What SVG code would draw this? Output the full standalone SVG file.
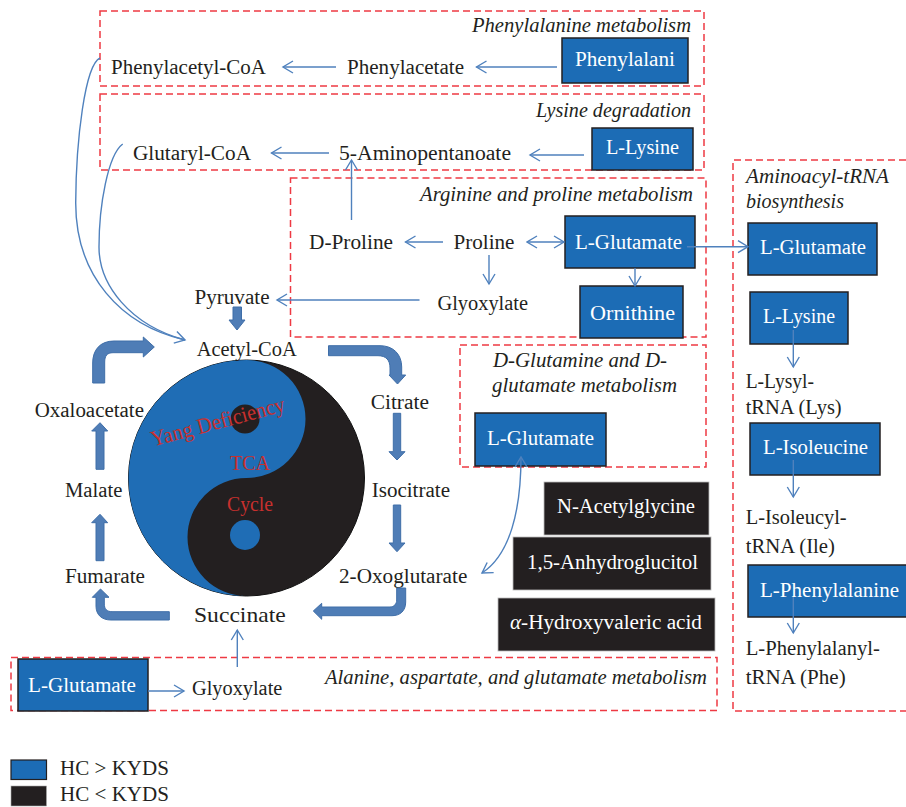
<svg xmlns="http://www.w3.org/2000/svg" width="906" height="807" viewBox="0 0 906 807">
<style>
text{font-family:"Liberation Serif","Times New Roman",serif;font-size:20px;fill:#231f20}
.w{fill:#fff}
.i{font-style:italic;font-size:20px}
.r{fill:#c8302e;font-size:22px}
.d{fill:none;stroke:#ee3a43;stroke-width:1.5;stroke-dasharray:7 4}
.b{fill:#1c6cb5;stroke:#231f20;stroke-width:1.5}
.k{fill:#231f20;stroke:#bbb;stroke-width:.8}
.c{fill:none;stroke:#4f81bd;stroke-width:1.4}
.a{marker-end:url(#o)}
.s{marker-start:url(#os)}
.f{fill:#4f7db6;stroke:#3f6ea8;stroke-width:1}
</style>
<defs>
<marker id="o" markerUnits="userSpaceOnUse" markerWidth="14" markerHeight="16" refX="11" refY="7" orient="auto"><path d="M1,1 L11,7 L1,13" fill="none" stroke="#4f81bd" stroke-width="1.4"/></marker>
<marker id="os" markerUnits="userSpaceOnUse" markerWidth="14" markerHeight="16" refX="1" refY="7" orient="auto"><path d="M11,1 L1,7 L11,13" fill="none" stroke="#4f81bd" stroke-width="1.4"/></marker>
</defs>
<g id="regions">
<rect class="d" x="100" y="11" width="604" height="75"/>
<rect class="d" x="100" y="94" width="604" height="76"/>
<rect class="d" x="290.500" y="178" width="415.500" height="159"/>
<rect class="d" x="460" y="345" width="246" height="122"/>
<rect class="d" x="11" y="657.500" width="706" height="53"/>
<path class="d" d="M906,160 H733 V711 H906"/>
</g>
<g id="yinyang">
<circle cx="246.500" cy="478" r="118" fill="#231f20" stroke="#111" stroke-width="1"/>
<path d="M246.500,360 A59,59 0 0 1 246.500,478 A59,59 0 0 0 246.500,596 A118,118 0 0 1 246.500,360Z" fill="#1f6db5"/>
<circle cx="245" cy="419" r="14.500" fill="#231f20"/>
<circle cx="245" cy="535" r="15" fill="#1f6db5"/>
<text class="r" transform="translate(153,446.500) rotate(-15)" textLength="138" lengthAdjust="spacingAndGlyphs">Yang Deficiency</text>
<text class="r" x="230" y="470" textLength="40" lengthAdjust="spacingAndGlyphs">TCA</text>
<text class="r" x="227" y="511" textLength="46" lengthAdjust="spacingAndGlyphs">Cycle</text>
</g>
<g id="n-phenylalani"><rect class="b" x="562" y="38" width="126" height="45"/><text class="w" x="575" y="66" textLength="100" lengthAdjust="spacingAndGlyphs">Phenylalani</text></g>
<g id="n-lysine1"><rect class="b" x="592" y="128" width="101" height="42"/><text class="w" x="606" y="154" textLength="73" lengthAdjust="spacingAndGlyphs">L-Lysine</text></g>
<g id="n-glutamate1"><rect class="b" x="565" y="216" width="130" height="52"/><text class="w" x="575" y="249" textLength="107" lengthAdjust="spacingAndGlyphs">L-Glutamate</text></g>
<g id="n-ornithine"><rect class="b" x="580" y="286" width="103" height="52"/><text class="w" x="590" y="320" textLength="85" lengthAdjust="spacingAndGlyphs">Ornithine</text></g>
<g id="n-glutamate2"><rect class="b" x="748" y="223" width="129" height="52"/><text class="w" x="760" y="254" textLength="106" lengthAdjust="spacingAndGlyphs">L-Glutamate</text></g>
<g id="n-lysine2"><rect class="b" x="750" y="292" width="98" height="52"/><text class="w" x="763" y="323" textLength="72" lengthAdjust="spacingAndGlyphs">L-Lysine</text></g>
<g id="n-isoleucine"><rect class="b" x="750" y="423" width="130" height="52"/><text class="w" x="763" y="454" textLength="105" lengthAdjust="spacingAndGlyphs">L-Isoleucine</text></g>
<g id="n-phenylalanine"><rect class="b" x="748" y="565" width="160" height="52"/><text class="w" x="760" y="597" textLength="139" lengthAdjust="spacingAndGlyphs">L-Phenylalanine</text></g>
<g id="n-glutamate3"><rect class="b" x="475" y="413" width="131" height="53"/><text class="w" x="487" y="445" textLength="107" lengthAdjust="spacingAndGlyphs">L-Glutamate</text></g>
<g id="n-glutamate4"><rect class="b" x="18" y="659" width="130" height="52"/><text class="w" x="28" y="692" textLength="108" lengthAdjust="spacingAndGlyphs">L-Glutamate</text></g>
<g id="n-acetylglycine"><rect class="k" x="544" y="482" width="165" height="53"/><text class="w" x="557" y="513" textLength="138" lengthAdjust="spacingAndGlyphs">N-Acetylglycine</text></g>
<g id="n-anhydroglucitol"><rect class="k" x="513" y="537" width="198" height="53"/><text class="w" x="527" y="569" textLength="171" lengthAdjust="spacingAndGlyphs">1,5-Anhydroglucitol</text></g>
<g id="n-hydroxyvaleric"><rect class="k" x="498" y="598" width="217" height="53"/><text class="w" x="510" y="629" textLength="192" lengthAdjust="spacingAndGlyphs"><tspan font-style="italic">α</tspan>-Hydroxyvaleric acid</text></g>
<g id="labels">
<text class="i" x="472" y="32" textLength="219" lengthAdjust="spacingAndGlyphs">Phenylalanine metabolism</text>
<text class="i" x="536" y="117" textLength="155" lengthAdjust="spacingAndGlyphs">Lysine degradation</text>
<text class="i" x="420" y="201" textLength="273" lengthAdjust="spacingAndGlyphs">Arginine and proline metabolism</text>
<text class="i" x="493" y="367" textLength="174" lengthAdjust="spacingAndGlyphs">D-Glutamine and D-</text>
<text class="i" x="492" y="392" textLength="185" lengthAdjust="spacingAndGlyphs">glutamate metabolism</text>
<text class="i" x="325" y="684" textLength="382" lengthAdjust="spacingAndGlyphs">Alanine, aspartate, and glutamate metabolism</text>
<text class="i" x="746" y="183" textLength="143" lengthAdjust="spacingAndGlyphs">Aminoacyl-tRNA</text>
<text class="i" x="746" y="208" textLength="98" lengthAdjust="spacingAndGlyphs">biosynthesis</text>
<text x="111" y="74" textLength="155" lengthAdjust="spacingAndGlyphs">Phenylacetyl-CoA</text>
<text x="347" y="74" textLength="117" lengthAdjust="spacingAndGlyphs">Phenylacetate</text>
<text x="133" y="160" textLength="118" lengthAdjust="spacingAndGlyphs">Glutaryl-CoA</text>
<text x="339" y="160" textLength="172" lengthAdjust="spacingAndGlyphs">5-Aminopentanoate</text>
<text x="309" y="249" textLength="84" lengthAdjust="spacingAndGlyphs">D-Proline</text>
<text x="453.500" y="249" textLength="61" lengthAdjust="spacingAndGlyphs">Proline</text>
<text x="437.500" y="310" textLength="90.500" lengthAdjust="spacingAndGlyphs">Glyoxylate</text>
<text x="194.500" y="304" textLength="75" lengthAdjust="spacingAndGlyphs">Pyruvate</text>
<text x="196.700" y="356" textLength="100" lengthAdjust="spacingAndGlyphs">Acetyl-CoA</text>
<text x="370.700" y="409" textLength="58.300" lengthAdjust="spacingAndGlyphs">Citrate</text>
<text x="34.700" y="417.300" textLength="109.300" lengthAdjust="spacingAndGlyphs">Oxaloacetate</text>
<text x="371.700" y="496.700" textLength="78.300" lengthAdjust="spacingAndGlyphs">Isocitrate</text>
<text x="65" y="496.700" textLength="57.300" lengthAdjust="spacingAndGlyphs">Malate</text>
<text x="65" y="583.300" textLength="80" lengthAdjust="spacingAndGlyphs">Fumarate</text>
<text x="339" y="583.300" textLength="128.300" lengthAdjust="spacingAndGlyphs">2-Oxoglutarate</text>
<text x="194" y="622.300" font-size="22" style="font-size:21px" textLength="91.700" lengthAdjust="spacingAndGlyphs">Succinate</text>
<text x="192" y="695" textLength="90.300" lengthAdjust="spacingAndGlyphs">Glyoxylate</text>
<text x="745.700" y="387.700" textLength="68.300" lengthAdjust="spacingAndGlyphs">L-Lysyl-</text>
<text x="745.700" y="414" textLength="96" lengthAdjust="spacingAndGlyphs">tRNA (Lys)</text>
<text x="745.700" y="524.300" textLength="101" lengthAdjust="spacingAndGlyphs">L-Isoleucyl-</text>
<text x="745.700" y="553.300" textLength="89.300" lengthAdjust="spacingAndGlyphs">tRNA (Ile)</text>
<text x="745.700" y="655" textLength="134.300" lengthAdjust="spacingAndGlyphs">L-Phenylalanyl-</text>
<text x="745.700" y="684.300" textLength="100" lengthAdjust="spacingAndGlyphs">tRNA (Phe)</text>
<text x="60" y="775" textLength="109" lengthAdjust="spacingAndGlyphs">HC &gt; KYDS</text>
<text x="60" y="801" textLength="109" lengthAdjust="spacingAndGlyphs">HC &lt; KYDS</text>
</g>
<g id="legend">
<rect x="11" y="760" width="35.500" height="19.500" fill="#1c6cb5" stroke="#231f20" stroke-width="1.200"/>
<rect x="11" y="786" width="35.500" height="20" fill="#231f20" stroke="#aaa" stroke-width=".6"/>
</g>
<g id="connectors">
<path class="c a" d="M557,67H476.500"/>
<path class="c a" d="M336,67H283"/>
<path class="c a" d="M584,155H530"/>
<path class="c a" d="M329,153H271.500"/>
<path class="c a" d="M351.500,220V160"/>
<path class="c a" d="M443,242H405.500"/>
<path class="c a s" d="M527,242H564"/>
<path class="c a" d="M489,255V284"/>
<path class="c a" d="M635,268V286"/>
<path class="c a" d="M419.500,300H277"/>
<path class="c a" d="M687,246.700H748"/>
<path class="c a" d="M793.300,330V367"/>
<path class="c a" d="M793.300,460V497"/>
<path class="c a" d="M793.300,597V633"/>
<path class="c a" d="M237.300,667V630"/>
<path class="c a" d="M148,691H184"/>
<path class="c a s" d="M521,457C521,510 510,555 482,573"/>
<path class="c" d="M100,58C85,65 76,140 75.700,203C75.700,275 120,325 185,340"/>
<path class="c a" d="M122.700,144C108,155 99,205 99,247C99,285 130,325 185,340"/>
<path class="f" d="M233,307H241.500V320H245L237,330L229,320H233Z"/>
<path class="f" d="M328.500,345.700H380C393,345.700 401.700,354 401.700,367V375H405.700L397.500,384L389,375H390V368C390,360 386,355.700 378,355.700H328.500Z"/>
<path class="f" d="M393.300,413.300H400.700V451.700H405L397,460L389,451.700H393.300Z"/>
<path class="f" d="M393.300,505H400.700V543H405L397,551.700L389,543H393.300Z"/>
<path class="f" d="M396.700,588H405.700V602C405.700,611 400,615.700 392,615.700H321.700V619.300L313.300,611L321.700,603.300V607H390C394,607 396.700,604 396.700,600Z"/>
<path class="f" d="M169.300,611.700H112C107,611.700 104.300,609 104.300,604V597.300H109L100.500,589L92.300,597.300H96V606C96,615 102,620 111,620H169.300Z"/>
<path class="f" d="M96,560.700H104V522.700H107.700L100,514.300L91.700,522.700H96Z"/>
<path class="f" d="M96,469.300H104V431H107.700L100,422.700L91.700,431H96Z"/>
<path class="f" d="M92.700,383V363C92.700,350 100,341 114,341H143.300V337L154.300,347L143.300,357V352.700H113C107,352.700 104.700,356 104.700,362V383Z"/>
</g>
</svg>
